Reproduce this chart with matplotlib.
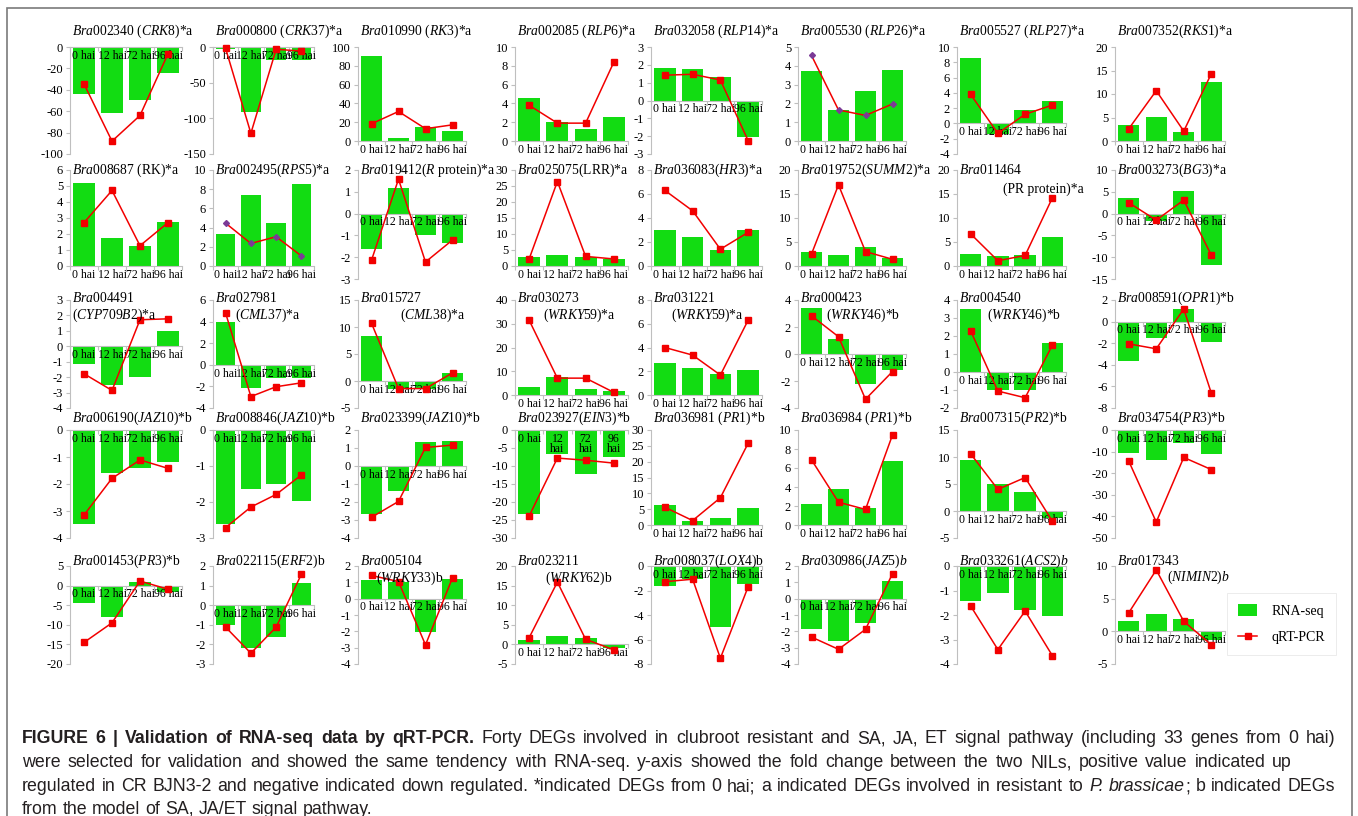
import matplotlib

matplotlib.use("Agg")

import numpy as np
import matplotlib.pyplot as plt
from matplotlib.patches import Patch, Rectangle
from matplotlib.lines import Line2D
from matplotlib.ticker import FormatStrFormatter

plt.rcParams["font.family"] = ["Liberation Serif", "DejaVu Serif"]
plt.rcParams["mathtext.fontset"] = "custom"
plt.rcParams["mathtext.rm"] = "Liberation Serif"
plt.rcParams["mathtext.it"] = "Liberation Serif:italic"
plt.rcParams["axes.unicode_minus"] = False

hours = ["0 hai", "12 hai", "72 hai", "96 hai"]
hours_wrapped = ["0 hai", "12\nhai", "72\nhai", "96\nhai"]

# ---- row 1 ----
titles_r1 = [
    [r"$\mathit{Bra002340}$ ($\mathit{CRK8}$)*a"],
    [r"$\mathit{Bra000800}$ ($\mathit{CRK37}$)*a"],
    [r"$\mathit{Bra010990}$ ($\mathit{RK3}$)*a"],
    [r"$\mathit{Bra002085}$ ($\mathit{RLP6}$)*a"],
    [r"$\mathit{Bra032058}$ ($\mathit{RLP14}$)*a"],
    [r"$\mathit{Bra005530}$ ($\mathit{RLP26}$)*a"],
    [r"$\mathit{Bra005527}$ ($\mathit{RLP27}$)*a"],
    [r"$\mathit{Bra007352}$($\mathit{RKS1}$)*a"],
]
rnaseq_r1 = [
    [-44, -62, -49.5, -24.5],
    [-2.5, -91, -18, -18],
    [90.5, 3, 14.8, 10.3],
    [4.6, 2.0, 1.3, 2.6],
    [1.85, 1.77, 1.33, -2.07],
    [3.7, 1.67, 2.65, 3.77],
    [8.5, -1.4, 1.8, 2.95],
    [3.5, 5.1, 1.9, 12.5],
]
qpcr_r1 = [
    [-34.5, -88, -64, -6.3],
    [-2, -121, -3.3, -5.6],
    [18.3, 31.4, 13.1, 17.2],
    [3.8, 1.9, 1.9, 8.4],
    [1.42, 1.47, 1.15, -2.25],
    [4.55, 1.65, 1.36, 1.97],
    [3.8, -1.3, 1.2, 2.4],
    [2.6, 10.7, 2.1, 14.3],
]
yrange_r1 = [(-100, 0, 20), (-150, 0, 50), (0, 100, 20), (0, 10, 2),
             (-3, 3, 1), (0, 5, 1), (-4, 10, 2), (0, 20, 5)]

# ---- row 2 ----
titles_r2 = [
    [r"$\mathit{Bra008687}$ (RK)*a"],
    [r"$\mathit{Bra002495}$($\mathit{RPS5}$)*a"],
    [r"$\mathit{Bra019412}$($\mathit{R}$ protein)*a"],
    [r"$\mathit{Bra025075}$(LRR)*a"],
    [r"$\mathit{Bra036083}$($\mathit{HR3}$)*a"],
    [r"$\mathit{Bra019752}$($\mathit{SUMM2}$)*a"],
    [r"$\mathit{Bra011464}$", "(PR protein)*a"],
    [r"$\mathit{Bra003273}$($\mathit{BG3}$)*a"],
]
rnaseq_r2 = [
    [5.2, 1.75, 1.27, 2.73],
    [3.33, 7.37, 4.49, 8.49],
    [-1.64, 1.19, -1.0, -1.36],
    [2.7, 3.4, 2.7, 2.1],
    [3.0, 2.45, 1.3, 3.0],
    [2.9, 2.3, 3.9, 1.6],
    [2.6, 2.0, 2.2, 6.0],
    [3.6, -1.7, 5.15, -11.7],
]
qpcr_r2 = [
    [2.71, 4.72, 1.27, 2.71],
    [4.46, 2.35, 3.05, 1.05],
    [-2.14, 1.58, -2.22, -1.21],
    [2.2, 26.4, 3.0, 2.2],
    [6.3, 4.6, 1.4, 2.8],
    [2.5, 16.9, 3.0, 1.4],
    [6.7, 1.1, 2.2, 14.2],
    [2.5, -1.5, 3.1, -9.5],
]
yrange_r2 = [(0, 6, 1), (0, 10, 2), (-3, 2, 1), (0, 30, 5),
             (0, 8, 2), (0, 20, 5), (0, 20, 5), (-15, 10, 5)]

# ---- row 3 ----
titles_r3 = [
    [r"$\mathit{Bra004491}$", r"($\mathit{CYP709B2}$)*a"],
    [r"$\mathit{Bra027981}$", r"($\mathit{CML37}$)*a"],
    [r"$\mathit{Bra015727}$", r"($\mathit{CML38}$)*a"],
    [r"$\mathit{Bra030273}$", r"($\mathit{WRKY59}$)*a"],
    [r"$\mathit{Bra031221}$", r"($\mathit{WRKY59}$)*a"],
    [r"$\mathit{Bra000423}$", r"($\mathit{WRKY46}$)*b"],
    [r"$\mathit{Bra004540}$", r"($\mathit{WRKY46}$)*b"],
    [r"$\mathit{Bra008591}$($\mathit{OPR1}$)*b"],
]
rnaseq_r3 = [
    [-1.12, -2.52, -2.0, 1.0],
    [3.94, -2.18, -1.2, -1.2],
    [8.3, -1.4, -1.4, 1.5],
    [3.5, 7.5, 2.5, 1.8],
    [2.66, 2.24, 1.76, 2.1],
    [3.4, 1.08, -2.25, -1.2],
    [3.48, -1.02, -1.0, 1.62],
    [-3.63, -1.55, 1.14, -1.9],
]
qpcr_r3 = [
    [-1.78, -2.86, 1.72, 1.78],
    [4.79, -2.94, -2.03, -1.67],
    [10.7, -1.4, -1.4, 1.5],
    [31.5, 7.1, 7.1, 1.1],
    [4.0, 3.36, 1.68, 6.3],
    [2.83, 1.28, -3.35, -1.3],
    [2.29, -1.06, -1.43, 1.49],
    [-2.06, -2.52, 1.17, -6.6],
]
yrange_r3 = [(-4, 3, 1), (-4, 6, 2), (-5, 15, 5), (0, 40, 10),
             (0, 8, 2), (-4, 4, 2), (-2, 4, 1), (-8, 2, 2)]

# ---- row 4 ----
titles_r4 = [
    [r"$\mathit{Bra006190}$($\mathit{JAZ10}$)*b"],
    [r"$\mathit{Bra008846}$($\mathit{JAZ10}$)*b"],
    [r"$\mathit{Bra023399}$($\mathit{JAZ10}$)*b"],
    [r"$\mathit{Bra023927}$($\mathit{EIN3}$)*b"],
    [r"$\mathit{Bra036981}$ ($\mathit{PR1}$)*b"],
    [r"$\mathit{Bra036984}$ ($\mathit{PR1}$)*b"],
    [r"$\mathit{Bra007315}$($\mathit{PR2}$)*b"],
    [r"$\mathit{Bra034754}$($\mathit{PR3}$)*b"],
]
rnaseq_r4 = [
    [-3.48, -1.6, -1.4, -1.17],
    [-2.6, -1.65, -1.51, -1.98],
    [-2.68, -1.41, 1.31, 1.41],
    [-23.2, -6.6, -12.2, -7.6],
    [6.3, 1.3, 2.1, 5.3],
    [2.16, 3.8, 1.74, 6.76],
    [9.4, 5.0, 3.56, -1.25],
    [-10.5, -13.9, -6.0, -11.3],
]
qpcr_r4 = [
    [-3.15, -1.79, -1.11, -1.42],
    [-2.71, -2.14, -1.79, -1.25],
    [-2.85, -1.97, 1.03, 1.16],
    [-23.9, -7.8, -8.4, -9.2],
    [5.6, 1.4, 8.6, 25.8],
    [6.86, 2.4, 1.64, 9.48],
    [10.6, 4.0, 6.2, -1.9],
    [-14.4, -42.6, -12.7, -18.3],
]
yrange_r4 = [(-4, 0, 1), (-3, 0, 1), (-4, 2, 1), (-30, 0, 5),
             (0, 30, 5), (0, 10, 2), (-5, 15, 5), (-50, 0, 10)]

# ---- row 5 ----
titles_r5 = [
    [r"$\mathit{Bra001453}$($\mathit{PR3}$)*b"],
    [r"$\mathit{Bra022115}$($\mathit{ERF2}$)b"],
    [r"$\mathit{Bra005104}$", r"($\mathit{WRKY33}$)b"],
    [r"$\mathit{Bra023211}$", r"($\mathit{WRKY62}$)b"],
    [r"$\mathit{Bra008037}$($\mathit{LOX4}$)b"],
    [r"$\mathit{Bra030986(JAZ5)b}$"],
    [r"$\mathit{Bra033261(ACS2)b}$"],
    [r"$\mathit{Bra017343}$", r"$\mathit{(NIMIN2)b}$"],
]
rnaseq_r5 = [
    [-4.5, -8.0, 0.93, -1.7],
    [-1.0, -2.2, -1.63, 1.15],
    [1.15, 1.0, -2.05, 1.18],
    [1.1, 2.25, 1.7, -1.0],
    [-1.65, -1.1, -4.94, -1.48],
    [-1.83, -2.6, -1.5, 1.06],
    [-1.41, -1.09, -1.81, -2.04],
    [1.53, 2.6, 1.86, -1.4],
]
qpcr_r5 = [
    [-14.5, -9.5, 1.16, -0.93],
    [-1.12, -2.45, -1.12, 1.58],
    [1.42, 1.05, -2.83, 1.28],
    [1.7, 15.9, 1.3, -1.4],
    [-1.28, -1.08, -7.53, -1.7],
    [-2.35, -3.1, -1.88, 1.53],
    [-1.63, -3.41, -1.84, -3.66],
    [2.84, 9.4, 1.53, -2.05],
]
yrange_r5 = [(-20, 5, 5), (-3, 2, 1), (-4, 2, 1), (-5, 20, 5),
             (-8, 0, 2), (-4, 2, 1), (-4, 0, 1), (-5, 10, 5)]

titles = [titles_r1, titles_r2, titles_r3, titles_r4, titles_r5]
rnaseq = [rnaseq_r1, rnaseq_r2, rnaseq_r3, rnaseq_r4, rnaseq_r5]
qpcr = [qpcr_r1, qpcr_r2, qpcr_r3, qpcr_r4, qpcr_r5]
yranges = [yrange_r1, yrange_r2, yrange_r3, yrange_r4, yrange_r5]

# ---- layout (pixels) ----
W, H = 1358, 816
col_left = [70, 213, 358, 515, 651, 798, 957, 1115]
col_right = [182, 314, 466, 628, 762, 906, 1066, 1225]
row_top = [47, 170, 300, 430, 566]
row_bottom = [154, 279, 408, 538, 664]
label_room = 13          # plot area shrinks when hour labels sit below it
title_y = [31, 170, 298, 418, 561]
# second title line: (x shift, y shift) in pixels
line2_shift = {
    (1, 6): (44, 19), (2, 0): (0, 17), (2, 1): (20, 17), (2, 2): (40, 17),
    (2, 3): (26, 17), (2, 4): (18, 17), (2, 5): (26, 17), (2, 6): (28, 17),
    (4, 2): (16, 17), (4, 3): (28, 17), (4, 7): (50, 16),
}
diamond_panels = {(0, 5), (1, 1)}

GREEN = "#12DC12"
RED = "#F20000"
AXIS = "#BFBFBF"
TITLE_SIZE = 9.8

fig = plt.figure(figsize=(W / 100, H / 100), dpi=100)


def fx(px):
    return px / W


def fy(py):
    return 1 - py / H


def draw_panel(r, c):
    lo, hi, step = yranges[r][c]
    left, right = col_left[c], col_right[c]
    top, bottom = row_top[r], row_bottom[r]
    if lo == 0:
        bottom -= label_room
    ax = fig.add_axes([fx(left), fy(bottom), (right - left) / W, (bottom - top) / H])
    x = np.arange(4)
    ax.bar(x, rnaseq[r][c], width=0.78, color=GREEN, zorder=1)
    if (r, c) in diamond_panels:
        ax.plot(x, qpcr[r][c], color=RED, lw=1.1, marker="D", ms=3,
                mfc="#7B3A96", mec="#7B3A96", zorder=4, clip_on=False)
    else:
        ax.plot(x, qpcr[r][c], color=RED, lw=1.1, marker="s", ms=4,
                zorder=4, clip_on=False)

    ax.set_ylim(lo, hi)
    ax.set_yticks(np.arange(lo, hi + step / 2, step))
    ax.yaxis.set_major_formatter(FormatStrFormatter("%g"))
    ax.set_xlim(-0.5, 3.5)

    for side in ("top", "right"):
        ax.spines[side].set_visible(False)
    for side in ("left", "bottom"):
        ax.spines[side].set_color(AXIS)
        ax.spines[side].set_linewidth(0.8)
    ax.spines["bottom"].set_position(("data", 0))

    labels = hours_wrapped if (r, c) == (3, 3) else hours
    ax.set_xticks(x)
    ax.set_xticklabels(labels, fontsize=8.5, linespacing=0.85)
    ax.set_xticks(np.arange(-0.5, 4, 1), minor=True)
    ax.tick_params(axis="x", which="major", length=0, pad=2)
    ax.tick_params(axis="x", which="minor", length=3, color=AXIS, width=0.8)
    ax.tick_params(axis="y", length=3, color=AXIS, width=0.8, labelsize=9, pad=2)
    ax.set_facecolor("none")

    tx = left + 2
    lines = titles[r][c]
    fig.text(fx(tx), fy(title_y[r]), lines[0], fontsize=TITLE_SIZE, va="center", ha="left")
    if len(lines) > 1:
        dx, dy = line2_shift[(r, c)]
        fig.text(fx(tx + dx), fy(title_y[r] + dy), lines[1], fontsize=TITLE_SIZE,
                 va="center", ha="left")


for r in range(5):
    for c in range(8):
        draw_panel(r, c)

# legend
handles = [Patch(facecolor=GREEN, edgecolor="none"),
           Line2D([], [], color=RED, lw=1.1, marker="s", ms=4)]
leg = fig.legend(handles, ["RNA-seq", "qRT-PCR"], loc="center left",
                 bbox_to_anchor=(fx(1220), fy(624)), fontsize=10,
                 frameon=True, fancybox=False, edgecolor="#E4E4E4",
                 handlelength=1.4, handleheight=0.9, labelspacing=0.9,
                 borderpad=0.8, handletextpad=1.0)
leg.get_frame().set_linewidth(0.6)

# frame around the whole figure
fig.patches.append(Rectangle((fx(7), fy(830)), fx(1352) - fx(7), fy(8) - fy(830),
                             transform=fig.transFigure, fill=False,
                             edgecolor="#7A7A7A", lw=1.2))

# caption: justified paragraph set word by word (mixes bold, regular, italic)
renderer = fig.canvas.get_renderer()
CAP = dict(family=["Liberation Sans", "DejaVu Sans"], fontsize=12.8, color="#231F20")
CAP_LEFT = 22


def run_width(s, **kw):
    a = fig.text(0, 0, s + "|", **kw)
    b = fig.text(0, 0, "|", **kw)
    w = a.get_window_extent(renderer).width - b.get_window_extent(renderer).width
    a.remove()
    b.remove()
    return w


def caption_line(y, runs, right=None):
    words = [[]]
    for s, style in runs:
        for i, part in enumerate(s.split(" ")):
            if i > 0:
                words.append([])
            if part:
                words[-1].append((part, dict(CAP, **style)))
    words = [w for w in words if w]
    widths = [sum(run_width(s, **kw) for s, kw in w) for w in words]
    gap = run_width(" ", **CAP)
    if right is not None and len(words) > 1:
        gap = max(gap, (right - CAP_LEFT - sum(widths)) / (len(words) - 1))
    x = CAP_LEFT
    for w, wd in zip(words, widths):
        xs = x
        for s, kw in w:
            fig.text(fx(xs), fy(y), s, va="baseline", ha="left", **kw)
            xs += run_width(s, **kw)
        x += wd + gap


caption_line(743, [("FIGURE 6 | Validation of RNA-seq data by qRT-PCR.", {"weight": "bold"}),
                   (" Forty DEGs involved in clubroot resistant and SA, JA, ET signal pathway "
                    "(including 33 genes from 0 hai)", {})], right=1335)
caption_line(767, [("were selected for validation and showed the same tendency with RNA-seq. "
                    "y-axis showed the fold change between the two NILs, positive value "
                    "indicated up", {})], right=1292)
caption_line(791, [("regulated in CR BJN3-2 and negative indicated down regulated. *indicated "
                    "DEGs from 0 hai; a indicated DEGs involved in resistant to ", {}),
                   ("P. brassicae", {"style": "italic"}),
                   ("; b indicated DEGs", {})], right=1335)
caption_line(814, [("from the model of SA, JA/ET signal pathway.", {})])

fig.savefig("out.png", dpi=100, facecolor="white")
